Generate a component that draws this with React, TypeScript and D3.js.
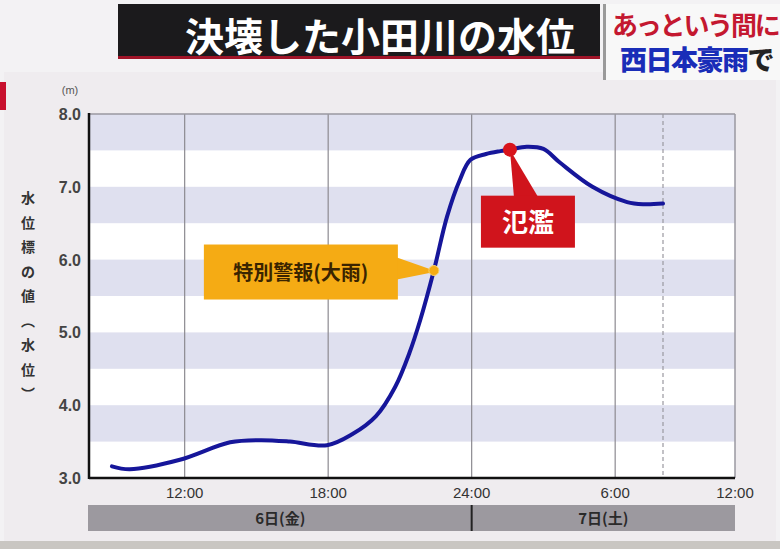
import React from 'react';
import * as d3 from 'd3';

// hours counted from 0:00 on the 6th
const hours = [8.96, 9.7, 11.8, 13.9, 15.15, 16.4, 17.95, 19.0, 20.0, 20.8, 21.4, 21.85, 22.42, 22.97, 23.5, 23.95, 24.6, 25.2, 25.6, 26.3, 27.0, 27.7, 29.05, 30.5, 31.2, 32];
const levels = [3.16, 3.12, 3.25, 3.49, 3.52, 3.5, 3.45, 3.6, 3.85, 4.25, 4.72, 5.17, 5.85, 6.59, 7.09, 7.37, 7.45, 7.49, 7.51, 7.55, 7.52, 7.33, 7.0, 6.79, 6.76, 6.77];
const yTicks = [3, 4, 5, 6, 7, 8];
const xTicks = [12, 18, 24, 30, 36];
const xTickLabels = ['12:00', '18:00', '24:00', '6:00', '12:00'];
const dayLabels = ['6日(金)', '7日(土)'];
const dayBounds = [8, 24, 36];
const bands = [[3.5, 4], [4.5, 5], [5.5, 6], [6.5, 7], [7.5, 8]];
const warningEvent = { hour: 22.42, level: 5.85, label: '特別警報(大雨)' };
const floodEvent = { hour: 25.6, level: 7.51, label: '氾濫' };
const nowHour = 32;
const title = '決壊した小田川の水位';
const yTitleChars = ['水', '位', '標', 'の', '値', '︵', '水', '位', '︶'];

const JP = '"Noto Sans CJK JP", "Noto Sans", sans-serif';
const NUM = '"Liberation Sans Narrow", "Liberation Sans", Arial, sans-serif';

export default function App() {
  const x = d3.scaleLinear().domain([8, 32, 36]).range([89, 663, 735]);
  const y = d3.scaleLinear().domain([3, 8]).range([478, 114]);
  const line = d3
    .line<number>()
    .x((_, i) => x(hours[i]))
    .y((d) => y(d))
    .curve(d3.curveCatmullRom.alpha(0.5));
  const path = line(levels) || '';
  const x0 = x(8), x1 = x(36), yT = y(8), yB = y(3);

  const wx = x(warningEvent.hour), wy = y(warningEvent.level);
  const fx = x(floodEvent.hour), fy = y(floodEvent.level);

  return (
    <svg width={780} height={549} style={{ position: 'absolute', left: 0, top: 0, display: 'block' }}>
      <rect x={0} y={0} width={780} height={549} fill="#f3f2f4" />
      {/* panel */}
      <rect x={4} y={72} width={772} height={470} fill="#efecef" />
      <rect x={0} y={541} width={780} height={8} fill="#c9c6c2" />
      <rect x={0} y={82} width={6} height={28} fill="#c8102e" />

      {/* title */}
      <rect x={118} y={4} width={482} height={53} fill="#1b1a1c" />
      <rect x={118} y={56} width={482} height={3} fill="#a01428" />
      <text x={380} y={51} textAnchor="middle" fill="#ffffff" fontFamily={JP} fontWeight={700} fontSize={39}>
        {title}
      </text>
      <rect x={603} y={4} width={177} height={76} fill="#f8f8f8" />
      <rect x={603} y={4} width={3} height={76} fill="#9a9a9a" />
      <text x={612} y={35} fill="#c41830" fontFamily={JP} fontWeight={700} fontSize={26} letterSpacing={-2.2}>あっという間に</text>
      <text x={620} y={70} fontFamily={JP} fontWeight={900} fontSize={27} letterSpacing={-1.5}>
        <tspan fill="#1a2db8">西日本豪雨</tspan>
        <tspan fill="#222">で</tspan>
      </text>

      {/* plot area */}
      <rect x={x0} y={yT} width={x1 - x0} height={yB - yT} fill="#ffffff" />
      {bands.map(([a, b], i) => (
        <rect key={i} x={x0} y={y(b)} width={x1 - x0} height={y(a) - y(b)} fill="#dfe0ef" />
      ))}
      {xTicks.slice(0, 4).map((t) => (
        <line key={t} x1={x(t)} x2={x(t)} y1={yT} y2={yB} stroke="#8c8a90" strokeWidth={1.2} />
      ))}
      <line x1={x(nowHour)} x2={x(nowHour)} y1={yT} y2={yB} stroke="#9a98a0" strokeWidth={1.2} strokeDasharray="4,3" />
      <line x1={x0} x2={x1} y1={yT} y2={yT} stroke="#9a98a0" strokeWidth={1.5} />
      <line x1={x1} x2={x1} y1={yT} y2={yB} stroke="#9a98a0" strokeWidth={1.5} />
      <line x1={x0} x2={x0} y1={yT - 1} y2={yB + 1} stroke="#111" strokeWidth={2.5} />
      <line x1={x0} x2={x1} y1={yB} y2={yB} stroke="#111" strokeWidth={2.5} />

      {/* y ticks */}
      {yTicks.map((t) => (
        <text key={t} x={81} y={y(t) + 6} textAnchor="end" fill="#444" fontFamily={NUM} fontWeight={700} fontSize={16}>
          {t.toFixed(1)}
        </text>
      ))}
      <text x={70} y={94} textAnchor="middle" fill="#555" fontFamily={NUM} fontSize={11}>(m)</text>
      {yTitleChars.map((c, i) => (
        <text key={i} x={28} y={203 + i * 24.5} textAnchor="middle" fill="#333" fontFamily={JP} fontWeight={700} fontSize={14}>
          {c}
        </text>
      ))}

      {/* x ticks */}
      {xTicks.map((t, i) => (
        <text key={i} x={x(t)} y={498} textAnchor="middle" fill="#333" fontFamily={NUM} fontSize={15}>
          {xTickLabels[i]}
        </text>
      ))}

      {/* day bar */}
      <rect x={x0 - 1} y={505} width={x1 - x0 + 1} height={26} fill="#9c999f" />
      <line x1={x(24)} x2={x(24)} y1={505} y2={531} stroke="#222" strokeWidth={2} />
      {dayLabels.map((d, i) => (
        <text key={i} x={(x(dayBounds[i]) + x(dayBounds[i + 1])) / 2} y={524} textAnchor="middle" fill="#2a2a2a" fontFamily={JP} fontWeight={700} fontSize={15}>
          {d}
        </text>
      ))}

      {/* water level line */}
      <path d={path} fill="none" stroke="#16169a" strokeWidth={4} strokeLinecap="round" strokeLinejoin="round" />

      {/* warning annotation */}
      <polygon points={`${wx - 37},${wy - 13} ${wx - 37},${wy + 9} ${wx + 3},${wy + 1}`} fill="#f5ab14" />
      <rect x={wx - 230} y={wy - 26} width={194} height={55} fill="#f5ab14" />
      <text x={wx - 133} y={wy + 9} textAnchor="middle" fill="#3a2400" fontFamily={JP} fontWeight={700} fontSize={20}>
        {warningEvent.label}
      </text>
      <circle cx={wx} cy={wy} r={5} fill="#f5ab14" stroke="#fbd36a" strokeWidth={1} />

      {/* flood annotation */}
      <polygon points={`${fx + 4},${fy + 47} ${fx + 28},${fy + 47} ${fx},${fy}`} fill="#d0141c" />
      <rect x={fx - 29} y={fy + 46} width={94} height={52} fill="#d0141c" />
      <text x={fx + 18} y={fy + 82} textAnchor="middle" fill="#ffffff" fontFamily={JP} fontWeight={700} fontSize={26}>
        {floodEvent.label}
      </text>
      <circle cx={fx} cy={fy} r={7} fill="#d8141c" />
    </svg>
  );
}
